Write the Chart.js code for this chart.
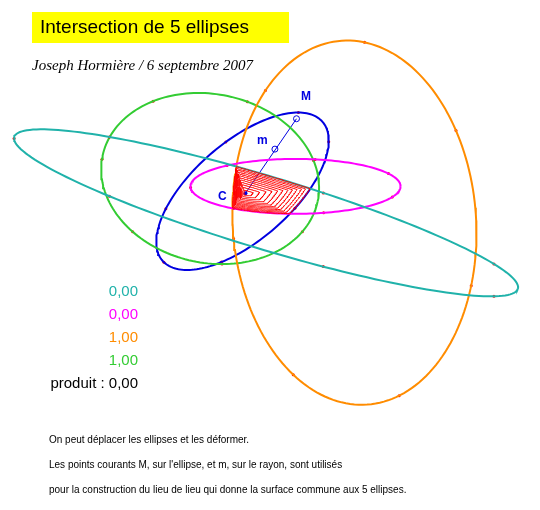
<!DOCTYPE html>
<html>
<head>
<meta charset="utf-8">
<script src="https://cdn.jsdelivr.net/npm/chart.js@4/dist/chart.umd.min.js"></script>
<style>
  body { margin: 0; background: #fff; }
  #wrap { width: 540px; height: 510px; }
</style>
</head>
<body>
<div id="wrap"><canvas id="fig"></canvas></div>
<script>
// ellipse parameters (pixel units)
const ellipseNames = ["teal", "magenta", "orange", "green", "blue"];
const ellipseColors = ["#20b2aa", "#ff00ff", "#ff8c00", "#33cc33", "#0000e0"];
const centersX = [266, 296, 356, 209, 242];
const centersY = [212, 185, 222, 177, 190];
const radiiU = [268, 107, 124, 112, 108];
const radiiV = [37, 28, 186, 86, 50];
const anglesDeg = [16.8, 0, -4, 12, -41];

const pointC = [245, 192];
const pointM = [297, 116];
const pointm = [275, 147];
const contourLevels = [0.12, 0.22, 0.32, 0.41, 0.5, 0.58, 0.66, 0.73, 0.8, 0.87, 0.93, 1.0];

const valueLabels = ["0,00", "0,00", "1,00", "1,00"];
const valueColors = ["#20b2aa", "#ff00ff", "#ff8c00", "#33cc33"];
const notes = [
  "On peut déplacer les ellipses et les déformer.",
  "Les points courants M, sur l'ellipse, et m, sur le rayon, sont utilisés",
  "pour la construction du lieu de lieu qui donne la surface commune aux 5 ellipses.",
];

function ellipsePoint(i, t) {
  const th = anglesDeg[i] * Math.PI / 180;
  const u = radiiU[i] * Math.cos(t), v = radiiV[i] * Math.sin(t);
  return { x: centersX[i] + u * Math.cos(th) - v * Math.sin(th),
           y: centersY[i] + u * Math.sin(th) + v * Math.cos(th) };
}

function inside(i, x, y) {
  const th = anglesDeg[i] * Math.PI / 180;
  const dx = x - centersX[i], dy = y - centersY[i];
  const u = dx * Math.cos(th) + dy * Math.sin(th);
  const v = -dx * Math.sin(th) + dy * Math.cos(th);
  return (u / radiiU[i]) ** 2 + (v / radiiV[i]) ** 2 <= 1;
}

function insideAll(x, y) {
  return ellipseNames.every((_, i) => inside(i, x, y));
}

// distance from C to the edge of the common surface along a ray
function rayReach(a) {
  const cx = Math.cos(a), cy = Math.sin(a);
  let r = 0;
  while (r < 400 && insideAll(pointC[0] + (r + 0.5) * cx, pointC[1] + (r + 0.5) * cy)) r += 0.5;
  return r;
}

const datasets = [];

const reach = [];
for (let j = 0; j <= 360; j++) reach.push(rayReach(j * Math.PI / 180));

contourLevels.forEach((k) => {
  const pts = reach.map((r, j) => {
    const a = j * Math.PI / 180;
    return { x: pointC[0] + k * r * Math.cos(a), y: pointC[1] + k * r * Math.sin(a) };
  });
  datasets.push({ data: pts, borderColor: "#ff0000", borderWidth: 1, pointRadius: 0, showLine: true });
});

ellipseNames.forEach((name, i) => {
  const pts = [];
  for (let j = 0; j <= 360; j += 2) pts.push(ellipsePoint(i, j * Math.PI / 180));
  datasets.push({ label: name, data: pts, borderColor: ellipseColors[i], borderWidth: 2, pointRadius: 0, showLine: true });
  // small red construction points
  const marks = [0.4, 1.3, 2.2, 3.1, 4.0, 4.9, 5.8].map((t) => ellipsePoint(i, t));
  datasets.push({ data: marks, pointRadius: 1.5, pointBackgroundColor: "#ff0000", pointBorderWidth: 0, showLine: false });
});

datasets.push({ data: [{ x: pointC[0], y: pointC[1] }, { x: pointM[0], y: pointM[1] }],
  borderColor: "#0000e0", borderWidth: 1, pointRadius: 0, showLine: true });
datasets.push({ data: [{ x: pointM[0], y: pointM[1] }, { x: pointm[0], y: pointm[1] }],
  pointRadius: 3, pointBackgroundColor: "#fff", pointBorderColor: "#0000e0", pointBorderWidth: 1, showLine: false });
datasets.push({ data: [{ x: pointC[0], y: pointC[1] }],
  pointRadius: 2, pointBackgroundColor: "#0000e0", pointBorderWidth: 0, showLine: false });

const textPlugin = {
  id: "texts",
  afterDraw(chart) {
    const ctx = chart.ctx;
    ctx.save();
    ctx.fillStyle = "#ffff00";
    ctx.fillRect(32, 12, 257, 31);
    ctx.fillStyle = "#000";
    ctx.font = "19px 'Liberation Sans', Arial, sans-serif";
    ctx.textBaseline = "middle";
    ctx.fillText("Intersection de 5 ellipses", 40, 28);
    ctx.font = "italic 15px 'Liberation Serif', 'Times New Roman', serif";
    ctx.fillText("Joseph Hormière / 6 septembre 2007", 32, 66);

    ctx.font = "bold 12px 'Liberation Sans', Arial, sans-serif";
    ctx.fillStyle = "#0000e0";
    ctx.fillText("M", 301, 97);
    ctx.fillText("m", 257, 141);
    ctx.fillText("C", 218, 197);

    ctx.font = "15px 'Liberation Sans', Arial, sans-serif";
    ctx.textAlign = "right";
    valueLabels.forEach((s, i) => {
      ctx.fillStyle = valueColors[i];
      ctx.fillText(s, 138, 292 + i * 23);
    });
    ctx.fillStyle = "#000";
    ctx.fillText("produit : 0,00", 138, 384);

    ctx.textAlign = "left";
    ctx.font = "10px 'Liberation Sans', Arial, sans-serif";
    notes.forEach((s, i) => ctx.fillText(s, 49, 440 + i * 25));
    ctx.restore();
  },
};

new Chart(document.getElementById("fig"), {
  type: "scatter",
  data: { datasets },
  options: {
    responsive: true,
    maintainAspectRatio: false,
    animation: false,
    layout: { padding: 0 },
    plugins: { legend: { display: false }, tooltip: { enabled: false } },
    scales: {
      x: { type: "linear", min: 0, max: 540, display: false },
      y: { type: "linear", min: 0, max: 510, reverse: true, display: false },
    },
  },
  plugins: [textPlugin],
});
</script>
</body>
</html>
